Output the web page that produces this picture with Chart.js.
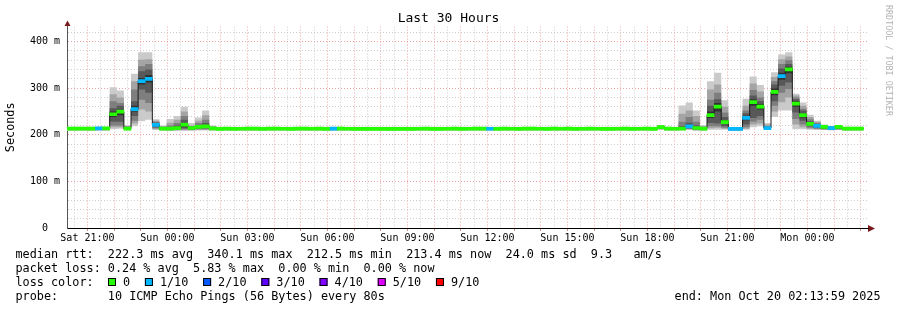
<!DOCTYPE html>
<html>
<head>
<meta charset="utf-8">
<title>Last 30 Hours</title>
<script src="https://cdn.jsdelivr.net/npm/chart.js@4.4.1/dist/chart.umd.min.js"></script>
<style>
  html, body { margin: 0; padding: 0; background: #fff; }
  .box { position: relative; width: 897px; height: 310px; }
</style>
</head>
<body>
<div class="box"><canvas id="latency"></canvas></div>
<script>
// x values are hours since Sat 00:00, one consolidated row every 16 minutes
const startHour = 20 + 14 / 60
const spanHours = 30
const binHours = 16 / 60

// median rtt per row (ms)
const median = [
  213.4, 213.2, 213.3, 213.1, 213.5, 213.6, 244.0, 249.5, 213.0, 255.0, 315.0, 320.0, 221.0, 213.0, 213.3, 214.0,
  221.5, 214.5, 216.8, 217.8, 213.8, 212.8, 213.0, 212.8, 212.9, 213.1, 213.0, 212.8, 213.2, 213.0, 212.9, 212.7,
  213.0, 213.1, 212.9, 213.0, 212.8, 213.2, 213.0, 212.9, 212.8, 212.7, 212.6, 212.8, 212.7, 212.5, 212.6, 212.8,
  212.7, 212.9, 213.0, 212.8, 212.7, 212.9, 213.0, 212.8, 212.9, 213.1, 213.0, 212.9, 212.8, 213.0, 212.9, 212.8,
  213.0, 213.1, 212.9, 212.8, 213.0, 212.9, 213.0, 212.8, 212.9, 213.0, 212.9, 212.8, 212.7, 212.9, 213.0, 212.8,
  212.9, 213.0, 212.8, 216.5, 213.0, 212.9, 213.2, 218.0, 214.5, 213.2, 242.0, 260.6, 227.0, 212.5, 212.6, 236.0,
  270.0, 260.6, 214.4, 292.0, 326.0, 340.1, 266.7, 242.0, 223.6, 219.0, 216.8, 214.4, 217.0, 213.2, 213.1, 213.4
]

// lost pings out of 10 per row
const lossCount = [
  0, 0, 0, 0, 1, 0, 0, 0, 0, 1, 1, 1, 1, 0, 0, 0,
  0, 0, 0, 0, 0, 0, 0, 0, 0, 0, 0, 0, 0, 0, 0, 0,
  0, 0, 0, 0, 0, 1, 0, 0, 0, 0, 0, 0, 0, 0, 0, 0,
  0, 0, 0, 0, 0, 0, 0, 0, 0, 0, 0, 1, 0, 0, 0, 0,
  0, 0, 0, 0, 0, 0, 0, 0, 0, 0, 0, 0, 0, 0, 0, 0,
  0, 0, 0, 0, 0, 0, 0, 1, 0, 0, 0, 0, 0, 1, 1, 1,
  0, 0, 1, 0, 1, 0, 0, 0, 0, 1, 0, 1, 0, 0, 0, 0
]

// sorted ping times per row, fastest (ping1) to slowest (ping10)
const ping1 = [
  208, 208, 208, 208, 208, 208, 212, 213, 209, 218, 229, 232, 210, 208, 208, 208,
  208, 208, 209, 209, 208, 208, 208, 208, 208, 208, 208, 208, 208, 208, 208, 208,
  208, 208, 208, 208, 208, 208, 208, 208, 208, 208, 208, 208, 208, 208, 208, 208,
  208, 208, 208, 208, 208, 208, 208, 208, 208, 208, 208, 208, 208, 208, 208, 208,
  208, 208, 208, 208, 208, 208, 208, 208, 208, 208, 208, 208, 208, 208, 208, 208,
  208, 208, 208, 210, 208, 208, 209, 210, 208, 208, 211, 211, 211, 208, 208, 211,
  216, 218, 210, 238, 252, 252, 212, 212, 211, 210, 210, 209, 210, 208, 208, 208
]
const ping2 = [
  210, 210, 210, 210, 210, 210, 216, 216, 211, 224, 254, 250, 212, 210, 209, 210,
  210, 210, 211, 211, 210, 210, 210, 210, 210, 210, 210, 210, 210, 210, 210, 210,
  210, 210, 210, 210, 210, 210, 210, 210, 210, 210, 210, 210, 210, 210, 210, 210,
  210, 210, 210, 210, 210, 210, 210, 210, 210, 210, 210, 210, 210, 210, 210, 210,
  210, 210, 210, 210, 210, 210, 210, 210, 210, 210, 210, 210, 210, 210, 210, 210,
  210, 210, 210, 212, 210, 210, 211, 212, 210, 210, 214, 215, 213, 209, 209, 213,
  222, 224, 211, 250, 270, 280, 222, 216, 213, 212, 211, 210, 211, 210, 210, 210
]
const ping3 = [
  211, 211, 211, 211, 211, 211, 220, 220, 212, 230, 275, 268, 214, 211, 210, 211,
  212, 211, 212, 212, 211, 211, 211, 211, 211, 211, 211, 211, 211, 211, 211, 211,
  211, 211, 211, 211, 211, 211, 211, 211, 211, 211, 211, 211, 211, 211, 211, 211,
  211, 211, 211, 211, 211, 211, 211, 211, 211, 211, 211, 211, 211, 211, 211, 211,
  211, 211, 211, 211, 211, 211, 211, 211, 211, 211, 211, 211, 211, 211, 211, 211,
  211, 211, 211, 213, 211, 211, 212, 213, 211, 211, 218, 218, 215, 210, 210, 216,
  228, 232, 212, 262, 290, 298, 234, 222, 215, 213, 212, 211, 212, 211, 211, 211
]
const ping4 = [
  212, 212, 212, 212, 212, 212, 228, 228, 212, 240, 297, 290, 216, 212, 211, 212,
  214, 212, 213, 214, 212, 212, 212, 212, 212, 212, 212, 212, 212, 212, 212, 212,
  212, 212, 212, 212, 212, 212, 212, 212, 212, 212, 212, 212, 212, 212, 212, 212,
  212, 212, 212, 212, 212, 212, 212, 212, 212, 212, 212, 212, 212, 212, 212, 212,
  212, 212, 212, 212, 212, 212, 212, 212, 212, 212, 212, 212, 212, 212, 212, 212,
  212, 212, 212, 214, 212, 212, 212, 214, 212, 212, 225, 224, 218, 211, 211, 222,
  236, 240, 213, 272, 305, 312, 248, 230, 218, 215, 213, 212, 213, 212, 212, 212
]
const ping5 = [
  212, 212, 212, 212, 212, 212, 238, 242, 212, 250, 308, 312, 219, 212, 212, 213,
  217, 213, 215, 216, 213, 212, 212, 212, 212, 212, 212, 212, 212, 212, 212, 212,
  212, 212, 212, 212, 212, 212, 212, 212, 212, 212, 212, 212, 212, 212, 212, 212,
  212, 212, 212, 212, 212, 212, 212, 212, 212, 212, 212, 212, 212, 212, 212, 212,
  212, 212, 212, 212, 212, 212, 212, 212, 212, 212, 212, 212, 212, 212, 212, 212,
  212, 212, 212, 215, 212, 212, 213, 216, 213, 212, 236, 250, 223, 212, 212, 231,
  262, 254, 214, 285, 318, 332, 260, 237, 221, 217, 215, 213, 215, 212, 212, 212
]
const ping6 = [
  214, 214, 214, 214, 214, 214, 250, 254, 214, 262, 322, 328, 223, 214, 214, 216,
  225, 215, 218, 220, 214, 214, 214, 214, 214, 214, 214, 214, 214, 214, 214, 214,
  214, 214, 214, 214, 214, 214, 214, 214, 214, 214, 214, 214, 214, 214, 214, 214,
  214, 214, 214, 214, 214, 214, 214, 214, 214, 214, 214, 214, 214, 214, 214, 214,
  214, 214, 214, 214, 214, 214, 214, 214, 214, 214, 214, 214, 214, 214, 214, 214,
  214, 214, 214, 217, 214, 214, 214, 220, 216, 214, 250, 268, 231, 213, 213, 241,
  276, 266, 215, 299, 333, 346, 272, 246, 226, 221, 218, 215, 218, 214, 214, 214
]
const ping7 = [
  214, 214, 214, 214, 214, 214, 257, 262, 215, 272, 336, 340, 226, 215, 216, 220,
  232, 216, 221, 225, 215, 214, 214, 214, 214, 214, 214, 214, 214, 214, 214, 214,
  214, 214, 214, 214, 214, 214, 214, 214, 214, 214, 214, 214, 214, 214, 214, 214,
  214, 214, 214, 214, 214, 214, 214, 214, 214, 214, 214, 214, 214, 214, 214, 214,
  214, 214, 214, 214, 214, 214, 214, 214, 214, 214, 214, 214, 214, 214, 214, 214,
  214, 214, 214, 218, 214, 214, 218, 226, 220, 215, 262, 276, 238, 213, 213, 246,
  284, 272, 217, 308, 342, 352, 276, 252, 229, 223, 219, 216, 218, 214, 214, 214
]
const ping8 = [
  215, 215, 215, 215, 215, 215, 272, 268, 217, 297, 347, 352, 228, 216, 220, 225,
  240, 218, 225, 232, 216, 215, 215, 215, 215, 215, 215, 215, 215, 215, 215, 215,
  215, 215, 215, 215, 215, 215, 215, 215, 215, 215, 215, 215, 215, 215, 215, 215,
  215, 215, 215, 215, 215, 215, 215, 215, 215, 215, 215, 215, 215, 215, 215, 215,
  215, 215, 215, 215, 215, 215, 215, 215, 215, 215, 215, 215, 215, 215, 215, 215,
  215, 215, 215, 219, 215, 215, 228, 238, 228, 216, 275, 290, 248, 214, 214, 252,
  296, 280, 219, 315, 352, 360, 280, 256, 233, 225, 220, 217, 219, 215, 215, 215
]
const ping9 = [
  216, 216, 216, 216, 216, 216, 287, 280, 219, 315, 361, 362, 230, 218, 226, 232,
  250, 220, 230, 242, 218, 216, 216, 216, 216, 216, 216, 216, 216, 216, 216, 216,
  216, 216, 216, 216, 216, 216, 216, 216, 216, 216, 216, 216, 216, 216, 216, 216,
  216, 216, 216, 216, 216, 216, 216, 216, 216, 216, 216, 216, 216, 216, 216, 216,
  216, 216, 216, 216, 216, 216, 216, 216, 216, 216, 216, 216, 216, 216, 216, 216,
  216, 216, 216, 220, 216, 216, 245, 252, 240, 218, 297, 308, 260, 215, 215, 262,
  310, 293, 222, 324, 362, 368, 284, 262, 238, 228, 221, 218, 220, 216, 216, 216
]
const ping10 = [
  217, 217, 217, 217, 217, 217, 302, 295, 221, 331, 377, 377, 233, 220, 234, 240,
  260, 225, 237, 252, 220, 217, 217, 217, 217, 217, 217, 217, 217, 217, 217, 217,
  217, 217, 217, 217, 217, 217, 217, 217, 217, 217, 217, 217, 217, 217, 217, 217,
  217, 217, 217, 217, 217, 217, 217, 217, 217, 217, 217, 217, 217, 217, 217, 217,
  217, 217, 217, 217, 217, 217, 217, 217, 217, 217, 217, 217, 217, 217, 217, 217,
  217, 217, 217, 221, 217, 217, 263, 269, 252, 221, 315, 333, 274, 216, 216, 277,
  325, 307, 225, 334, 372, 377, 288, 269, 243, 230, 222, 219, 220, 217, 217, 217
]

const lossLevels = [0, 1, 2, 3, 4, 5, 9]
const lossLabels = ["0", "1/10", "2/10", "3/10", "4/10", "5/10", "9/10"]
const lossColors = ["#26ff00", "#00b8ff", "#0059ff", "#5e00ff", "#7e00ff", "#dd00ff", "#ff0000"]
const smokeShades = ["#cacaca", "#a4a4a4", "#7e7e7e", "#585858", "#323232"]

const tickHours = [21, 24, 27, 30, 33, 36, 39, 42, 45, 48]
const tickLabels = ["Sat 21:00", "Sun 00:00", "Sun 03:00", "Sun 06:00", "Sun 09:00",
  "Sun 12:00", "Sun 15:00", "Sun 18:00", "Sun 21:00", "Mon 00:00"]
const yLabelValues = [0, 100, 200, 300, 400]
const yLabels = ["0  ", "100 m", "200 m", "300 m", "400 m"]

const statLines = [
  "median rtt:  222.3 ms avg  340.1 ms max  212.5 ms min  213.4 ms now  24.0 ms sd  9.3   am/s",
  "packet loss: 0.24 % avg  5.83 % max  0.00 % min  0.00 % now",
]
const lossTitle = "loss color:"
const probeLine = "probe:       10 ICMP Echo Pings (56 Bytes) every 80s"
const endLine = "end: Mon Oct 20 02:13:59 2025"
const sideNote = "RRDTOOL / TOBI OETIKER"

const mono = "'DejaVu Sans Mono', monospace"
const majorGrid = "#eba3a3"
const minorGrid = "#cdcdcd"
const medianHalf = 3.3 // ms, about 1.5 px at this scale

Chart.defaults.font.family = mono
Chart.defaults.color = "#000"

const pings = [ping1, ping2, ping3, ping4, ping5, ping6, ping7, ping8, ping9, ping10]
const binStart = median.map((_, i) => startHour + i * binHours)
const edges = [...binStart, startHour + median.length * binHours]
const stepPoints = arr => edges.map((x, i) => ({ x, y: arr[Math.min(i, arr.length - 1)] }))

const datasets = [
  {
    type: "bar",
    data: median.map((m, i) => ({ x: binStart[i] + binHours / 2, y: [m - medianHalf, m + medianHalf] })),
    backgroundColor: lossCount.map(c => lossColors[lossLevels.indexOf(c)]),
    borderWidth: 0,
    barPercentage: 1,
    categoryPercentage: 1,
    order: 0,
  },
  {
    type: "line",
    data: stepPoints(median),
    stepped: true,
    borderColor: "#1c1c1c",
    borderWidth: 1,
    pointRadius: 0,
    fill: false,
    order: 1,
  },
]

smokeShades.forEach((shade, b) => {
  const common = { type: "line", stepped: true, borderWidth: 0, borderColor: "rgba(0,0,0,0)", pointRadius: 0, order: 20 - 2 * b }
  datasets.push({ ...common, data: stepPoints(pings[b]), fill: false })
  datasets.push({ ...common, data: stepPoints(pings[9 - b]), fill: "-1", backgroundColor: shade })
})

const halfHours = []
for (let k = Math.ceil(startHour * 2); k <= (startHour + spanHours) * 2; k++) halfHours.push(k / 2)
const yGridValues = []
for (let v = 0; v <= 420; v += 20) yGridValues.push(v)

const decorations = {
  id: "decorations",
  afterDraw(chart) {
    const { ctx, chartArea: a } = chart
    ctx.save()

    // axis arrows
    ctx.fillStyle = "#7a1c1c"
    ctx.beginPath()
    ctx.moveTo(a.left + 0.5, a.top - 6)
    ctx.lineTo(a.left - 2.5, a.top - 0.5)
    ctx.lineTo(a.left + 3.5, a.top - 0.5)
    ctx.closePath()
    ctx.fill()
    ctx.beginPath()
    ctx.moveTo(a.right + 8, a.bottom + 0.5)
    ctx.lineTo(a.right + 1, a.bottom - 3)
    ctx.lineTo(a.right + 1, a.bottom + 4)
    ctx.closePath()
    ctx.fill()
    ctx.strokeStyle = "#000"
    ctx.lineWidth = 1
    ctx.beginPath()
    ctx.moveTo(a.right, a.bottom + 0.5)
    ctx.lineTo(a.right + 2, a.bottom + 0.5)
    ctx.stroke()

    // legend block
    ctx.font = "11.8px " + mono
    ctx.fillStyle = "#000"
    ctx.textBaseline = "alphabetic"
    ctx.textAlign = "left"
    const x0 = 15.5
    ctx.fillText(statLines[0], x0, 257.5)
    ctx.fillText(statLines[1], x0, 271.5)
    ctx.fillText(lossTitle, x0, 285.5)
    let x = 108
    lossLabels.forEach((label, i) => {
      ctx.fillStyle = lossColors[i]
      ctx.fillRect(x, 278, 8, 8)
      ctx.strokeStyle = "#000"
      ctx.strokeRect(x + 0.5, 278.5, 7, 7)
      ctx.fillStyle = "#000"
      ctx.fillText(label, x + 15, 285.5)
      x += 15 + ctx.measureText(label).width + 14.8
    })
    ctx.fillText(probeLine, x0, 299.5)
    ctx.textAlign = "right"
    ctx.fillText(endLine, 880.5, 299.5)

    // side note
    ctx.translate(888.5, 5)
    ctx.rotate(Math.PI / 2)
    ctx.textAlign = "left"
    ctx.textBaseline = "middle"
    ctx.font = "8.4px " + mono
    ctx.fillStyle = "#b4b4b4"
    ctx.fillText(sideNote, 0, 0)
    ctx.restore()
  },
}

new Chart(document.getElementById("latency"), {
  type: "line",
  data: { datasets },
  options: {
    responsive: true,
    maintainAspectRatio: false,
    animation: false,
    events: [],
    layout: { padding: 0 },
    scales: {
      x: {
        type: "linear",
        min: startHour,
        max: startHour + spanHours,
        offset: false,
        afterBuildTicks: scale => { scale.ticks = halfHours.map(value => ({ value })) },
        afterFit: scale => { scale.height = 82 },
        ticks: {
          autoSkip: false,
          maxRotation: 0,
          minRotation: 0,
          padding: 1,
          font: { size: 10 },
          callback: value => {
            const i = tickHours.indexOf(value)
            return i < 0 ? "" : tickLabels[i]
          },
        },
        grid: {
          offset: false,
          lineWidth: 1,
          color: c => (Number.isInteger(c.tick.value) ? majorGrid : minorGrid),
          tickLength: 3,
          tickColor: c => (Number.isInteger(c.tick.value) ? "#d58a8a" : "rgba(0,0,0,0)"),
        },
        border: { display: true, color: "#000", width: 1, dash: [1, 2] },
      },
      y: {
        type: "linear",
        min: 0,
        max: 432,
        afterBuildTicks: scale => { scale.ticks = yGridValues.map(value => ({ value })) },
        afterFit: scale => { scale.width = 67 },
        ticks: {
          autoSkip: false,
          padding: 7,
          font: { size: 10 },
          callback: value => {
            const i = yLabelValues.indexOf(value)
            return i < 0 ? "" : yLabels[i]
          },
        },
        grid: {
          drawTicks: false,
          lineWidth: 1,
          color: c => (c.tick.value % 100 === 0 ? majorGrid : minorGrid),
        },
        border: { display: true, color: "#555", width: 1, dash: [1, 2] },
        title: { display: true, text: "Seconds", font: { size: 11.8 }, color: "#000", padding: { top: 4, bottom: 0 } },
      },
      side: {
        type: "linear",
        axis: "y",
        position: "right",
        min: 0,
        max: 1,
        afterFit: scale => { scale.width = 30 },
        ticks: { display: false },
        grid: { display: false },
        border: { display: false },
      },
    },
    plugins: {
      legend: { display: false },
      tooltip: { enabled: false },
      title: {
        display: true,
        text: "Last 30 Hours",
        color: "#000",
        font: { size: 13, weight: "normal" },
        padding: { top: 11, bottom: 0 },
      },
    },
  },
  plugins: [decorations],
})
</script>
</body>
</html>
